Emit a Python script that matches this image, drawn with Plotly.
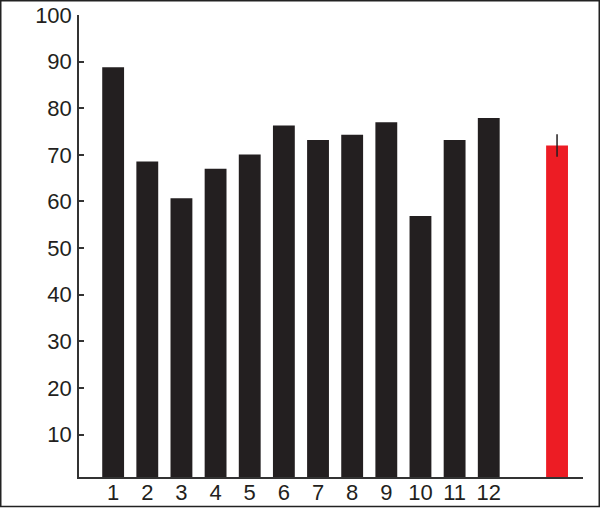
import plotly.graph_objects as go

categories = [1, 2, 3, 4, 5, 6, 7, 8, 9, 10, 11, 12]
values = [88.8, 68.6, 60.7, 67.0, 70.1, 76.3, 73.2, 74.3, 77.0, 56.9, 73.2, 77.9]
mean_x = [14]
mean_value = [72.0]
mean_error = [2.4]
y_ticks = [10, 20, 30, 40, 50, 60, 70, 80, 90, 100]

fig = go.Figure()
fig.add_trace(go.Bar(x=categories, y=values, width=0.64,
                     marker=dict(color="#231f20", line=dict(width=0)),
                     showlegend=False))
fig.add_trace(go.Bar(x=mean_x, y=mean_value, width=0.64,
                     marker=dict(color="#ed1c24", line=dict(width=0)),
                     error_y=dict(type="data", array=mean_error, color="#231f20",
                                  thickness=1.5, width=0),
                     showlegend=False))

W, H = 600, 508
ml, mr, mt, mb = 79, 17, 15, 31
pw, ph = W - ml - mr, H - mt - mb

fig.update_layout(
    width=W, height=H,
    margin=dict(l=ml, r=mr, t=mt, b=mb, autoexpand=False),
    paper_bgcolor="white", plot_bgcolor="white",
    font=dict(family="Liberation Sans, Arial, sans-serif", size=22, color="#231f20"),
    xaxis=dict(range=[0, 14.76], tickmode="array", tickvals=categories,
               ticktext=[str(c) for c in categories], showgrid=False, zeroline=False,
               showline=True, linecolor="#333", linewidth=1.5, ticks="", ticklabelstandoff=-5,
               automargin=False),
    yaxis=dict(range=[0.9, 100], tickmode="array", tickvals=y_ticks, showgrid=False,
               zeroline=False, showline=True, linecolor="#333", linewidth=1.5,
               ticks="inside", ticklen=5, tickwidth=1.5, tickcolor="#333",
               ticklabelstandoff=1, automargin=False),
    shapes=[dict(type="rect", xref="paper", yref="paper",
                 x0=(0.75 - ml) / pw, x1=(W - 0.75 - ml) / pw,
                 y0=-(mb - 1.5) / ph, y1=(ph + mt - 0.75) / ph,
                 line=dict(color="#222", width=1.5))],
)

fig.write_html("out.html", config={"displayModeBar": False},
               post_script="document.body.style.margin='0';document.body.style.padding='0';document.body.style.overflow='hidden';")
